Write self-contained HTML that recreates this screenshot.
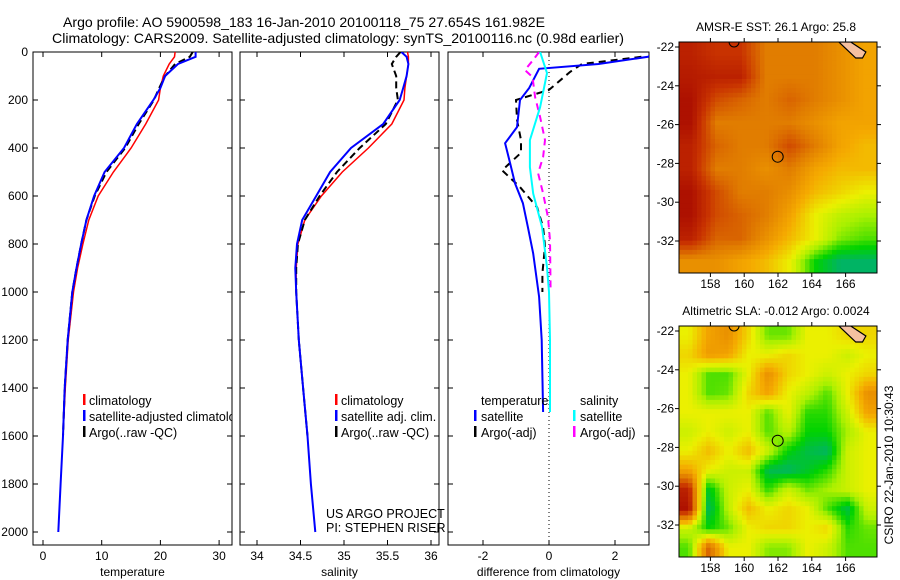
<!DOCTYPE html>
<html><head><meta charset="utf-8"><style>
html,body{margin:0;padding:0;background:#fff}
svg{display:block;font-family:"Liberation Sans",sans-serif}
</style></head><body>
<svg id="fig" width="900" height="580" viewBox="0 0 900 580" xmlns="http://www.w3.org/2000/svg">
<defs>
<clipPath id="c1"><rect x="33" y="52" width="199" height="493"/></clipPath>
<clipPath id="c2"><rect x="240" y="52" width="199" height="493"/></clipPath>
<clipPath id="c3"><rect x="448" y="52" width="201" height="493"/></clipPath>
<clipPath id="m1"><rect x="679" y="42" width="198" height="231"/></clipPath>
<clipPath id="m2"><rect x="679" y="326" width="198" height="231"/></clipPath>
</defs>
<text x="63" y="27" font-size="14" textLength="482" lengthAdjust="spacingAndGlyphs">Argo profile: AO 5900598_183 16-Jan-2010 20100118_75 27.654S 161.982E</text>
<text x="52" y="43" font-size="14" textLength="572" lengthAdjust="spacingAndGlyphs">Climatology: CARS2009. Satellite-adjusted climatology: synTS_20100116.nc (0.98d earlier)</text>
<g id="g"></g>
</svg>
<script>
// ---- profile data ----
const depths = [0,20,50,100,150,200,300,400,500,600,700,800,900,1000,1200,1400,1600,1800,2000];
const climT = [22.5,22.4,21.5,20.5,20.0,19.7,17.5,15.0,12.0,9.4,7.8,6.8,5.9,5.2,4.3,3.8,3.4];
const satT  = [26.0,26.0,23.0,20.8,20.0,18.8,16.0,13.8,10.5,8.7,7.4,6.5,5.7,5.0,4.2,3.7,3.4,3.0,2.6];
const argoT = [25.5,25.0,22.5,20.8,19.8,18.9,16.3,14.0,10.8,8.8,7.4,6.5,5.7,5.0,4.2,3.7,3.4];
const climS = [35.73,35.74,35.74,35.72,35.70,35.69,35.55,35.28,34.98,34.74,34.55,34.47,34.45,34.45,34.48,34.53,34.58];
const satS  = [35.66,35.72,35.74,35.72,35.68,35.64,35.45,35.08,34.84,34.68,34.52,34.46,34.44,34.45,34.48,34.53,34.58,34.62,34.67];
const argoS = [35.65,35.60,35.55,35.60,35.60,35.62,35.48,35.18,34.92,34.72,34.55,34.47,34.45,34.45,34.48,34.53,34.58];
// difference panel
const dDepthT = [0,20,50,70,150,200,313,380,463,547,630,730,840,1020,1200,1500];
const dSatT   = [3.2,3.0,1.5,-0.3,-0.6,-0.88,-0.97,-1.33,-1.18,-1.03,-0.79,-0.64,-0.48,-0.3,-0.22,-0.18];
const dDepthA = [20,50,83,158,200,283,367,420,493,563,647,730,810,922,1000];
const dArgoT  = [2.8,1.0,0.64,0.0,-1.0,-0.97,-0.85,-0.85,-1.42,-0.88,-0.36,-0.18,-0.12,-0.2,-0.2];
const dDepthS = [0,88,230,367,480,590,730,897,1000,1200,1500];
const dSatS   = [-0.27,-0.06,-0.27,-0.58,-0.58,-0.48,-0.21,-0.06,0.0,0.03,0.03];
const dDepthM = [0,33,75,104,188,271,367,438,505,589,689,785,994];
const dArgoS  = [-0.3,-0.48,-0.73,-0.5,-0.42,-0.27,-0.12,-0.18,-0.33,-0.18,-0.03,0.03,0.05];
const depthTicks = [0,200,400,600,800,1000,1200,1400,1600,1800,2000];
const tTicks = [0,10,20,30];
const sTicks = [34,34.5,35,35.5,36];
const dTicks = [-2,0,2];
// ---- map data (rows north->south) ----
const sstGrid = [
[0.10,0.15,0.15,0.30,0.30,0.30,0.35,0.40],
[0.08,0.10,0.10,0.30,0.30,0.30,0.35,0.40],
[0.05,0.20,0.25,0.30,0.25,0.30,0.35,0.40],
[0.05,0.30,0.30,0.30,0.30,0.35,0.40,0.40],
[0.10,0.25,0.30,0.30,0.20,0.30,0.40,0.45],
[0.10,0.30,0.30,0.35,0.30,0.40,0.45,0.45],
[0.05,0.20,0.30,0.30,0.35,0.45,0.50,0.55],
[0.05,0.20,0.25,0.30,0.40,0.55,0.62,0.65],
[0.10,0.25,0.25,0.35,0.45,0.55,0.68,0.72],
[0.35,0.35,0.40,0.45,0.55,0.78,0.88,0.88]];
const slaGrid = [
[0.55,0.40,0.35,0.50,0.70,0.70,0.55,0.55,0.50,0.50],
[0.50,0.38,0.40,0.55,0.55,0.50,0.55,0.55,0.60,0.55],
[0.55,0.72,0.72,0.55,0.35,0.50,0.55,0.60,0.55,0.50],
[0.55,0.72,0.70,0.50,0.40,0.55,0.62,0.72,0.55,0.35],
[0.55,0.55,0.55,0.55,0.72,0.55,0.75,0.75,0.60,0.40],
[0.60,0.55,0.60,0.55,0.72,0.62,0.78,0.78,0.65,0.55],
[0.55,0.45,0.55,0.45,0.60,0.78,0.85,0.88,0.60,0.55],
[0.40,0.55,0.60,0.60,0.86,0.88,0.82,0.75,0.60,0.55],
[0.10,0.82,0.60,0.55,0.75,0.60,0.70,0.65,0.60,0.55],
[0.05,0.88,0.62,0.45,0.55,0.50,0.55,0.72,0.85,0.60],
[0.60,0.78,0.70,0.55,0.50,0.50,0.55,0.50,0.75,0.70],
[0.72,0.25,0.55,0.55,0.68,0.68,0.55,0.60,0.72,0.72]];
const lonTicks = [158,160,162,164,166];
const latTicks = [-22,-24,-26,-28,-30,-32];
const profileLon = 161.982, profileLat = -27.654;

const NS='http://www.w3.org/2000/svg';
const G=document.getElementById('g');
function mk(tag,attrs,parent){const e=document.createElementNS(NS,tag);for(const k in attrs)e.setAttribute(k,attrs[k]);(parent||G).appendChild(e);return e;}
const yD=d=>52+d*0.24;
const xT=t=>43+t*5.87;
const xS=s=>257+(s-34)*87;
const xDf=v=>549+v*33;

function line(xs,ds,fx,color,w,dash,clip,name){
  let p='';for(let i=0;i<xs.length;i++){p+=(i?'L':'M')+fx(xs[i]).toFixed(1)+','+yD(ds[i]).toFixed(1);}
  const e=mk('path',{d:p,fill:'none',stroke:color,'stroke-width':w,'clip-path':'url(#'+clip+')'});
  if(dash)e.setAttribute('stroke-dasharray',dash);
  
  
}
function frame(x0,x1,xt,fx,title,name){
  const r=mk('rect',{x:x0,y:52,width:x1-x0,height:493,fill:'none',stroke:'#000','stroke-width':1});
  
  
  depthTicks.forEach(d=>{
    mk('line',{x1:x0,x2:x0+5,y1:yD(d),y2:yD(d),stroke:'#000'});
    mk('line',{x1:x1-5,x2:x1,y1:yD(d),y2:yD(d),stroke:'#000'});
  });
  xt.forEach(v=>{
    mk('line',{x1:fx(v),x2:fx(v),y1:545,y2:540,stroke:'#000'});
    mk('line',{x1:fx(v),x2:fx(v),y1:52,y2:57,stroke:'#000'});
    const t=mk('text',{x:fx(v),y:560,'font-size':12,'text-anchor':'middle'});t.textContent=String(v);
    
    
  });
  const tt=mk('text',{x:(x0+x1)/2,y:576,'font-size':12,'text-anchor':'middle'});tt.textContent=title;
  
  
}
frame(33,232,tTicks,xT,'temperature','temperature-panel');
frame(240,439,sTicks,xS,'salinity','salinity-panel');
frame(448,649,dTicks,xDf,'difference from climatology','difference-panel');
depthTicks.forEach(d=>{
  const t=mk('text',{x:28,y:yD(d)+4,'font-size':12,'text-anchor':'end'});t.textContent=String(d);
  
  
});
mk('line',{x1:xDf(0),x2:xDf(0),y1:52,y2:545,stroke:'#000','stroke-dasharray':'1,3'});

line(climT,depths,xT,'#f00',1.5,null,'c1','temperature-climatology-line');
line(argoT,depths,xT,'#000',2,'7,4','c1','temperature-argo-line');
line(satT,depths,xT,'#00f',2,null,'c1','temperature-satellite-line');
line(climS,depths,xS,'#f00',1.5,null,'c2','salinity-climatology-line');
line(argoS,depths,xS,'#000',2,'7,4','c2','salinity-argo-line');
line(satS,depths,xS,'#00f',2,null,'c2','salinity-satellite-line');
line(dArgoT,dDepthA,xDf,'#000',2,'7,5','c3','temp-diff-argo-line');
line(dSatT,dDepthT,xDf,'#00f',2,null,'c3','temp-diff-satellite-line');
line(dArgoS,dDepthM,xDf,'#f0f',2,'7,5','c3','sal-diff-argo-line');
line(dSatS,dDepthS,xDf,'#0ff',2,null,'c3','sal-diff-satellite-line');

function legend(mx,tx,y,color,label,clip,name){
  mk('rect',{x:mx,y:y-6,width:2.5,height:11,fill:color});
  const t=mk('text',{x:tx,y:y+5,'font-size':12.5});t.textContent=label;
  if(clip)t.setAttribute('clip-path','url(#'+clip+')');
  
  
}
legend(83,89,400,'#f00','climatology','c1','legend-climatology');
legend(83,89,416,'#00f','satellite-adjusted climatology','c1','legend-satellite');
legend(83,89,432,'#000','Argo(..raw -QC)','c1','legend-argo');
legend(335,341,400,'#f00','climatology','c2','legend2-climatology');
legend(335,341,416,'#00f','satellite adj. clim.','c2','legend2-satellite');
legend(335,341,432,'#000','Argo(..raw -QC)','c2','legend2-argo');
let th=mk('text',{x:481,y:405,'font-size':12.5});th.textContent='temperature';


let sh=mk('text',{x:580,y:405,'font-size':12.5});sh.textContent='salinity';


legend(474,481,416,'#00f','satellite',null,'legend3-temp-satellite');
legend(474,481,432,'#000','Argo(-adj)',null,'legend3-temp-argo');
legend(573,580,416,'#0ff','satellite',null,'legend3-sal-satellite');
legend(573,580,432,'#f0f','Argo(-adj)',null,'legend3-sal-argo');
let u1=mk('text',{x:326,y:518,'font-size':12.5});u1.textContent='US ARGO PROJECT';


let u2=mk('text',{x:326,y:532,'font-size':12.5});u2.textContent='PI: STEPHEN RISER';



// ---- maps ----
const stops=[[0,[160,0,0]],[0.15,[200,50,0]],[0.3,[225,125,0]],[0.42,[245,170,0]],[0.55,[235,240,0]],[0.65,[170,240,0]],[0.78,[0,210,0]],[0.88,[0,180,100]],[1,[0,220,230]]];
function cmap(v){for(let i=1;i<stops.length;i++){if(v<=stops[i][0]){const a=stops[i-1],b=stops[i],f=(v-a[0])/(b[0]-a[0]);const c=a[1].map((x,j)=>Math.round(x+(b[1][j]-x)*f));return 'rgb('+c+')';}}return 'rgb(0,220,230)';}
function sample(grid,u,v){ // bilinear, u,v in cell units (centers at i+0.5)
  const R=grid.length,C=grid[0].length;
  let x=Math.min(Math.max(u-0.5,0),C-1),y=Math.min(Math.max(v-0.5,0),R-1);
  const x0=Math.floor(x),y0=Math.floor(y),x1=Math.min(x0+1,C-1),y1=Math.min(y0+1,R-1),fx=x-x0,fy=y-y0;
  return grid[y0][x0]*(1-fx)*(1-fy)+grid[y0][x1]*fx*(1-fy)+grid[y1][x0]*(1-fx)*fy+grid[y1][x1]*fx*fy;
}
function drawMap(grid,top,clip,title,name,titleY){
  const left=679,W=198,H=231;
  const xL=lon=>778+(lon-162)*16.9;
  const yL=lat=>top+5+(-22-lat)*19.4;
  const g=mk('g',{'clip-path':'url(#'+clip+')'});
  
  
  const rows=grid.length,cols=grid[0].length;
  const NX=44,NY=50,cw=W/NX,ch=H/NY;
  for(let j=0;j<NY;j++)for(let i=0;i<NX;i++){
    const val=sample(grid,(i+0.5)/NX*cols,(j+0.5)/NY*rows);
    mk('rect',{x:(left+i*cw).toFixed(2),y:(top+j*ch).toFixed(2),width:(cw+0.4).toFixed(2),height:(ch+0.4).toFixed(2),fill:cmap(val)},g);
  }
  mk('path',{d:`M${xL(165.6)},${top} L${xL(166.3)},${top} L${xL(167.2)},${top+10} L${xL(167.0)},${top+16} L${xL(166.6)},${top+16} Z`,fill:'#f5c0a0',stroke:'#000','stroke-width':1.2},g);
  mk('circle',{cx:xL(159.4),cy:top,r:5,fill:'none',stroke:'#000'},g);
  const pc=mk('circle',{cx:xL(profileLon),cy:yL(profileLat),r:5.5,fill:'none',stroke:'#000','stroke-width':1});
  
  
  mk('rect',{x:left,y:top,width:W,height:H,fill:'none',stroke:'#000'});
  latTicks.forEach(l=>{
    mk('line',{x1:left-4,x2:left,y1:yL(l),y2:yL(l),stroke:'#000'});
    mk('line',{x1:left+W,x2:left+W+4,y1:yL(l),y2:yL(l),stroke:'#000'});
    const t=mk('text',{x:left-5,y:yL(l)+4,'font-size':12,'text-anchor':'end'});t.textContent=String(l);
    
    
  });
  lonTicks.forEach(l=>{
    mk('line',{x1:xL(l),x2:xL(l),y1:top-4,y2:top,stroke:'#000'});
    mk('line',{x1:xL(l),x2:xL(l),y1:top+H,y2:top+H+4,stroke:'#000'});
    const t=mk('text',{x:xL(l),y:top+H+15,'font-size':12,'text-anchor':'middle'});t.textContent=String(l);
    
    
  });
  const tt=mk('text',{x:776,y:titleY,'font-size':12,'text-anchor':'middle'});tt.textContent=title;
  
  
}
drawMap(sstGrid,42,'m1','AMSR-E SST: 26.1  Argo: 25.8','sst-map',31);
drawMap(slaGrid,326,'m2','Altimetric SLA: -0.012  Argo: 0.0024','sla-map',315);
const cs=mk('text',{x:0,y:0,'font-size':12,'text-anchor':'middle',transform:'translate(893,465) rotate(-90)'});
cs.textContent='CSIRO 22-Jan-2010 10:30:43';


</script>
</body></html>
